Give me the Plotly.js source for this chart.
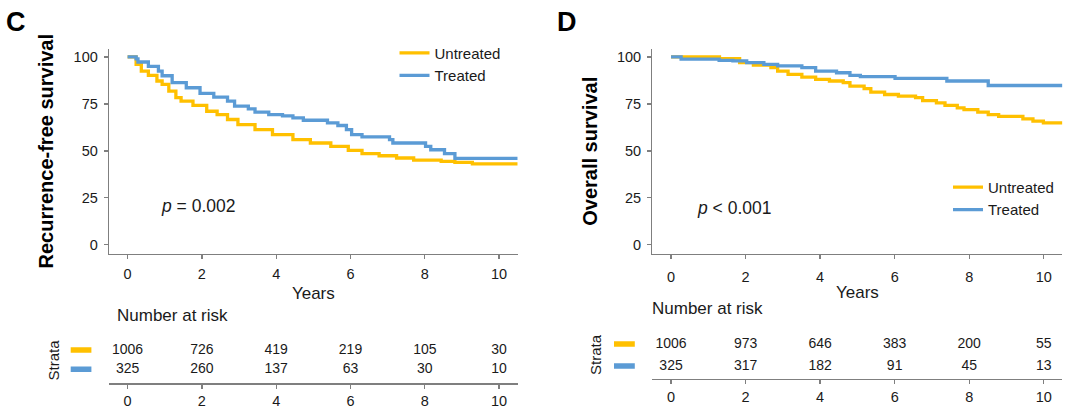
<!DOCTYPE html>
<html>
<head>
<meta charset="utf-8">
<script src="https://cdn.plot.ly/plotly-3.0.1.min.js"></script>
<style>html,body{margin:0;padding:0;background:#fff;}#chart{width:1080px;height:411px;}</style>
</head>
<body>
<div id="chart"></div>
<script>
// ---- Data ----
const groups = ["Untreated", "Treated"];
const riskTimes = [0, 2, 4, 6, 8, 10];

// Panel C: recurrence-free survival (%)
const rfsUntreatedT = [0, 0.23, 0.37, 0.56, 0.79, 0.93, 1.11, 1.3, 1.44, 1.76, 2.13, 2.41, 2.69, 2.97, 3.43, 3.9, 4.45, 4.92, 5.47, 5.94, 6.31, 6.77, 7.24, 7.7, 8.44, 8.81, 9.28, 10.5];
const rfsUntreatedS = [100, 96, 92.5, 90.2, 87.2, 85.4, 81.8, 78.3, 76.5, 74.2, 71.1, 69.3, 66.7, 64, 61.3, 58.6, 56, 54.2, 52.4, 50.3, 48.5, 47.4, 46.2, 45.1, 44.4, 43.9, 43.1, 43.1];
const rfsTreatedT = [0, 0.23, 0.28, 0.56, 0.83, 0.93, 1.2, 1.58, 1.95, 2.32, 2.69, 2.88, 3.25, 3.43, 3.8, 4.17, 4.45, 4.73, 5.38, 5.66, 5.89, 6.03, 6.31, 7.05, 7.14, 8.02, 8.16, 8.53, 8.81, 10.5];
const rfsTreatedS = [100, 99, 97.3, 95, 92.5, 90, 86.3, 83.6, 80.6, 78.6, 76.5, 73.8, 72.4, 70.6, 69.3, 68.6, 67.6, 66.3, 64.9, 63.5, 61.3, 58.6, 57.4, 56, 54.2, 52.4, 50.6, 48.5, 46, 46];

// Panel D: overall survival (%)
const osUntreatedT = [0, 1.3, 1.84, 2.21, 2.68, 2.86, 3.14, 3.51, 3.88, 4.25, 4.62, 4.8, 5.18, 5.36, 5.73, 6.1, 6.56, 6.75, 7.12, 7.35, 7.68, 7.86, 8.23, 8.51, 8.79, 9.44, 9.71, 9.99, 10.5];
const osUntreatedS = [100, 99.1, 97, 95.7, 94.3, 92.5, 90.7, 89.3, 88.1, 87.2, 86.3, 84.5, 83.1, 81.3, 80, 79.1, 78.3, 76.8, 75.6, 74.2, 72.9, 72, 70.6, 69.3, 68.4, 67, 65.8, 64.9, 64.9];
const osTreatedT = [0, 0.27, 1.29, 1.66, 2.03, 2.49, 2.86, 3.51, 3.88, 4.44, 4.8, 5.08, 6.01, 7.4, 8.51, 10.5];
const osTreatedS = [100, 98.8, 98.2, 97.9, 97, 96.1, 95.2, 94.3, 92.5, 91.6, 90.2, 89.5, 88.6, 87.2, 84.8, 84.8];

// Numbers at risk
const rfsRiskUntreated = [1006, 726, 419, 219, 105, 30];
const rfsRiskTreated = [325, 260, 137, 63, 30, 10];
const osRiskUntreated = [1006, 973, 646, 383, 200, 55];
const osRiskTreated = [325, 317, 182, 91, 45, 13];

const pTextC = "<i>p</i> = 0.002";
const pTextD = "<i>p</i> &lt; 0.001";
const yTitleC = "Recurrence-free survival";
const yTitleD = "Overall survival";

// ---- Styling ----
const YEL = "#FFC000", BLU = "#5B9BD5";
const AX = "#7f7f7f", TXT = "#1a1a1a";
const FONT = "'Liberation Sans', Arial, sans-serif";
const W = 1080, H = 411;
const px = v => v / W, py = v => 1 - v / H;

function curve(t, s, name, color, xa, ya, legend) {
  return {type: "scatter", mode: "lines", x: t, y: s, name: name, xaxis: xa, yaxis: ya,
    line: {color: color, width: 3.3, shape: "hv"}, legend: legend, hoverinfo: "skip"};
}
function riskRow(vals, row, xa, ya) {
  return {type: "scatter", mode: "text", x: riskTimes, y: riskTimes.map(() => row),
    text: vals.map(String), textposition: "middle center", xaxis: xa, yaxis: ya,
    textfont: {size: 14, color: TXT, family: FONT}, showlegend: false, hoverinfo: "skip"};
}

const data = [
  curve(rfsUntreatedT, rfsUntreatedS, groups[0], YEL, "x", "y", "legend"),
  curve(rfsTreatedT, rfsTreatedS, groups[1], BLU, "x", "y", "legend"),
  curve(osUntreatedT, osUntreatedS, groups[0], YEL, "x2", "y2", "legend2"),
  curve(osTreatedT, osTreatedS, groups[1], BLU, "x2", "y2", "legend2"),
  riskRow(rfsRiskUntreated, 2, "x3", "y3"),
  riskRow(rfsRiskTreated, 1, "x3", "y3"),
  riskRow(osRiskUntreated, 2, "x4", "y4"),
  riskRow(osRiskTreated, 1, "x4", "y4")
];

function xAx(dom, anchor, title, standoff, tls) {
  const a = {domain: dom, anchor: anchor, range: [-0.5, 10.5], tickvals: riskTimes,
    ticks: "outside", ticklen: 4, tickcolor: AX, tickwidth: 1.3, showline: true, linecolor: AX, linewidth: 1.3,
    showgrid: false, zeroline: false, tickfont: {size: 14.5, color: TXT, family: FONT},
    ticklabelstandoff: tls, fixedrange: true};
  if (title) a.title = {text: title, font: {size: 17, color: TXT, family: FONT}, standoff: standoff};
  return a;
}
function yAx(dom, anchor, title, standoff) {
  return {domain: dom, anchor: anchor, range: [-4.9, 104.5], tickvals: [0, 25, 50, 75, 100],
    ticks: "outside", ticklen: 4, tickcolor: AX, tickwidth: 1.3, showline: true, linecolor: AX, linewidth: 1.3,
    showgrid: false, zeroline: false, tickfont: {size: 14.5, color: TXT, family: FONT},
    ticklabelstandoff: 3, fixedrange: true,
    title: {text: title, font: {size: 20, color: "#000", family: FONT, weight: "bold"}, standoff: standoff}};
}
function tableY(dom, anchor, range) {
  return {domain: dom, anchor: anchor, range: range, visible: false, fixedrange: true};
}

const domCx = [px(109), px(517.7)];
const domDx = [px(652.4), px(1062.4)];
const domPy = [py(254), py(48.5)];

const layout = {
  width: W, height: H, margin: {l: 0, r: 0, t: 0, b: 0},
  paper_bgcolor: "#fff", plot_bgcolor: "rgba(0,0,0,0)",
  font: {family: FONT, color: TXT},
  xaxis: xAx(domCx, "y", "Years", 6, 2),
  yaxis: yAx(domPy, "x", yTitleC, 14),
  xaxis2: xAx(domDx, "y2", "Years", 2, 5),
  yaxis2: yAx(domPy, "x2", yTitleD, 14),
  xaxis3: xAx(domCx, "y3", null, 0, 0),
  yaxis3: tableY([py(383.3), py(330)], "x3", [0.275, 3.037]),
  xaxis4: xAx(domDx, "y4", null, 0, 0),
  yaxis4: tableY([py(379), py(326)], "x4", [0.409, 2.818]),
  legend: {x: px(394.5), y: py(64.2), xanchor: "left", yanchor: "middle", bgcolor: "rgba(0,0,0,0)",
    font: {size: 15, color: TXT, family: FONT}, tracegroupgap: 0},
  legend2: {x: px(948), y: py(198.3), xanchor: "left", yanchor: "middle", bgcolor: "rgba(0,0,0,0)",
    font: {size: 15, color: TXT, family: FONT}, tracegroupgap: 0},
  showlegend: true,
  annotations: [
    {text: "<b>C</b>", x: px(16.4), y: py(21.7), xref: "paper", yref: "paper", showarrow: false,
      xanchor: "center", yanchor: "middle", font: {size: 27, color: "#000", family: FONT}},
    {text: "<b>D</b>", x: px(566.7), y: py(22.5), xref: "paper", yref: "paper", showarrow: false,
      xanchor: "center", yanchor: "middle", font: {size: 27, color: "#000", family: FONT}},
    {text: pTextC, x: px(158.6), y: py(206), xref: "paper", yref: "paper", showarrow: false,
      xanchor: "left", yanchor: "middle", font: {size: 17.5, color: TXT, family: FONT}},
    {text: pTextD, x: px(695), y: py(208.3), xref: "paper", yref: "paper", showarrow: false,
      xanchor: "left", yanchor: "middle", font: {size: 17.5, color: TXT, family: FONT}},
    {text: "Number at risk", x: px(114.8), y: py(315), xref: "paper", yref: "paper", showarrow: false,
      xanchor: "left", yanchor: "middle", font: {size: 17, color: TXT, family: FONT}},
    {text: "Number at risk", x: px(650.3), y: py(308.3), xref: "paper", yref: "paper", showarrow: false,
      xanchor: "left", yanchor: "middle", font: {size: 17, color: TXT, family: FONT}},
    {text: "Strata", x: px(53.4), y: py(360), xref: "paper", yref: "paper", showarrow: false, textangle: -90,
      xanchor: "center", yanchor: "middle", font: {size: 15, color: TXT, family: FONT}},
    {text: "Strata", x: px(595), y: py(355), xref: "paper", yref: "paper", showarrow: false, textangle: -90,
      xanchor: "center", yanchor: "middle", font: {size: 15, color: TXT, family: FONT}}
  ],
  shapes: [
    {type: "line", xref: "paper", yref: "y3", x0: px(70.7), x1: px(91.4), y0: 2, y1: 2, line: {color: YEL, width: 5.5}},
    {type: "line", xref: "paper", yref: "y3", x0: px(70.7), x1: px(91.4), y0: 1, y1: 1, line: {color: BLU, width: 5.5}},
    {type: "line", xref: "paper", yref: "y4", x0: px(614), x1: px(634.8), y0: 2, y1: 2, line: {color: YEL, width: 5.5}},
    {type: "line", xref: "paper", yref: "y4", x0: px(614), x1: px(634.8), y0: 1, y1: 1, line: {color: BLU, width: 5.5}}
  ]
};

Plotly.newPlot("chart", data, layout, {staticPlot: true, displayModeBar: false});
</script>
</body>
</html>
